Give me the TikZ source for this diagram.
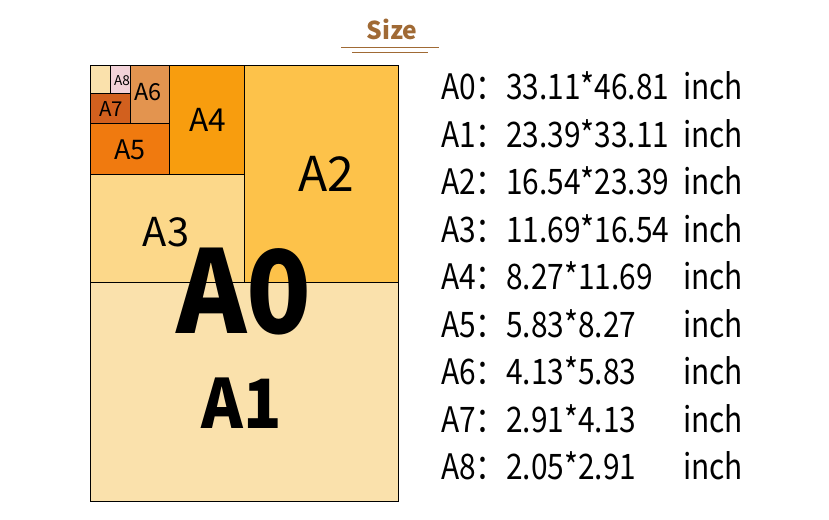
\documentclass[tikz,border=0pt]{standalone}
\usepackage{fontspec}
\setmainfont{Noto Sans CJK SC}
\newfontfamily\cjk[FakeStretch=0.85]{Noto Sans CJK SC}
\newfontfamily\cjkwide[FakeStretch=0.93]{Noto Sans CJK SC}
\usepackage{tikz}
\definecolor{sizebrown}{HTML}{A06A35}
\definecolor{paperone}{HTML}{FAE1AC}
\definecolor{papertwo}{HTML}{FDC24A}
\definecolor{paperthree}{HTML}{FCD88A}
\definecolor{paperfour}{HTML}{F89D0E}
\definecolor{paperfive}{HTML}{F07A0F}
\definecolor{papersix}{HTML}{E3944F}
\definecolor{paperseven}{HTML}{D2601E}
\definecolor{papereight}{HTML}{F2D2D8}
\tikzset{
  sheet/.style={draw=black,line width=0.8pt},
  sheetlabel/.style={inner sep=0pt},
  rowtext/.style={inner sep=0pt,anchor=base west,font=\cjk\fontsize{30}{36}\selectfont}
}

\begin{document}
\begin{tikzpicture}[x=0.03cm,y=-0.03cm]
      \useasboundingbox (0,0) rectangle (829,519);

      % title
      \node[sheetlabel,text=sizebrown] (title) at (392,29.7) {\fontsize{21}{24}\selectfont\bfseries Size};
      \draw[sizebrown,line width=0.8pt] (341,47.3) -- (439,47.3);
      \draw[sizebrown,line width=0.8pt] (352,52.3) -- (428,52.3);

      % sheets
      \draw [sheet,fill=paperone] (90,282) rectangle (398,501);
      \draw [sheet,fill=papertwo] (244,65) rectangle (398,282);
      \draw [sheet,fill=paperthree] (90,174) rectangle (244,282);
      \draw [sheet,fill=paperfour] (169,65) rectangle (244,174);
      \draw [sheet,fill=paperfive] (90,123) rectangle (169,174);
      \draw [sheet,fill=papersix] (130,65) rectangle (169,123);
      \draw [sheet,fill=paperseven] (90,93) rectangle (130,123);
      \draw [sheet,fill=papereight] (110,65) rectangle (130,93);
      \draw [sheet,fill=paperone] (90,65) rectangle (110,93);

      % sheet names
      \node[sheetlabel] (a1) at (241.5,403) {\cjkwide\fontsize{58}{60}\selectfont\bfseries A1};
      \node[sheetlabel] (a2) at (326,174) {\fontsize{41}{44}\selectfont A2};
      \node[sheetlabel] (a3) at (166,232) {\fontsize{34}{36}\selectfont A3};
      \node[sheetlabel] (a4) at (207.5,120) {\fontsize{27}{30}\selectfont A4};
      \node[sheetlabel] (a5) at (130,150) {\fontsize{23}{26}\selectfont A5};
      \node[sheetlabel] (a6) at (148,92) {\fontsize{20}{22}\selectfont A6};
      \node[sheetlabel] (a7) at (111,109) {\fontsize{17.5}{20}\selectfont A7};
      \node[sheetlabel] (a8) at (122,81) {\fontsize{11.6}{13}\selectfont A8};
      \node[sheetlabel] (a0) at (244,292) {\cjkwide\fontsize{98}{104}\selectfont\bfseries A0};

      % size list
      \foreach \n/\dims [count=\i from 0] in {A0/33.11*46.81,A1/23.39*33.11,A2/16.54*23.39,
          A3/11.69*16.54,A4/8.27*11.69,A5/5.83*8.27,A6/4.13*5.83,A7/2.91*4.13,A8/2.05*2.91}{
        \node[rowtext] (name\i) at (441,99.5+47.5*\i) {\n：};
        \node[rowtext] (dims\i) at (506,99.5+47.5*\i) {\dims};
        \node[rowtext] (unit\i) at (683,99.5+47.5*\i) {inch};
      }
\end{tikzpicture}
\end{document}
